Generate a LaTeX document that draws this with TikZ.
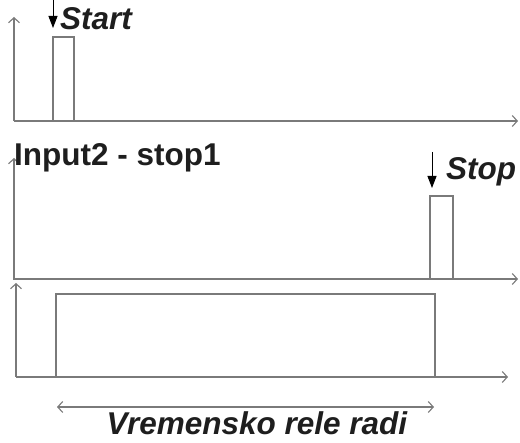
\documentclass[tikz,border=0pt]{standalone}
\usepackage{fontspec}
\setmainfont{Liberation Sans}
\usetikzlibrary{arrows.meta}
\definecolor{axisgray}{HTML}{7A7A7A}
\definecolor{txtdark}{HTML}{1E1E1E}
\tikzset{
  axis/.style={draw=axisgray, line width=1.5pt, -{Straight Barb[length=5pt,width=11pt,line width=1.1pt]}},
  sig/.style={draw=axisgray, line width=1.6pt, line join=miter},
  mark arrow/.style={draw=black, line width=1pt, -{Triangle[length=12pt,width=9pt]}},
  span/.style={draw=axisgray, line width=1.3pt, {Straight Barb[length=5pt,width=11pt,line width=1.1pt]}-{Straight Barb[length=5pt,width=11pt,line width=1.1pt]}},
  lbl/.style={inner sep=0pt, text=txtdark, font=\fontsize{31.5}{32}\selectfont\bfseries},
  ilbl/.style={lbl, font=\fontsize{31.5}{32}\selectfont\bfseries\itshape},
}
\begin{document}
\begin{tikzpicture}[x=1pt, y=-1pt]
\useasboundingbox (0,0) rectangle (520,443);
% panel 1
\coordinate (o1) at (14,121);
\coordinate (y1) at (14,17);
\coordinate (x1) at (518,121);
\draw[axis] (o1) -- (y1);
\draw[axis] (o1) -- (x1);
\coordinate (p1a) at (53,121);
\coordinate (p1b) at (74,121);
\draw[sig] (p1a) -- (53,37) -- (74,37) -- (p1b);
\coordinate (s1) at (53,0);
\coordinate (s2) at (53,28);
\draw[mark arrow] (s1) -- (s2);
\node[ilbl, anchor=base west] (start) at (60,30) {Start};
% panel 2
\coordinate (o2) at (14,280);
\coordinate (y2) at (14,158);
\coordinate (x2) at (518,279);
\draw[axis] (o2) -- (y2);
\draw[axis] (14,279) -- (x2);
\node[lbl, anchor=base west] (in2) at (14,166) {Input2 - stop1};
\coordinate (p2a) at (430,279);
\coordinate (p2b) at (453,279);
\draw[sig] (p2a) -- (430,196) -- (453,196) -- (p2b);
\coordinate (t1) at (432,152);
\coordinate (t2) at (432,188);
\draw[mark arrow] (t1) -- (t2);
\node[ilbl, anchor=base west] (stop) at (446,180) {Stop};
% panel 3
\coordinate (o3) at (16,377);
\coordinate (y3) at (16,283);
\coordinate (x3) at (508,377);
\draw[axis] (o3) -- (y3);
\draw[axis] (o3) -- (x3);
\coordinate (p3a) at (56,377);
\coordinate (p3b) at (435,377);
\draw[sig] (p3a) -- (56,294) -- (435,294) -- (p3b);
% span
\coordinate (sa) at (57,407);
\coordinate (sb) at (434,407);
\draw[span] (sa) -- (sb);
\node[ilbl, anchor=base] (rad) at (257,435) {Vremensko rele radi};
\end{tikzpicture}
\end{document}
